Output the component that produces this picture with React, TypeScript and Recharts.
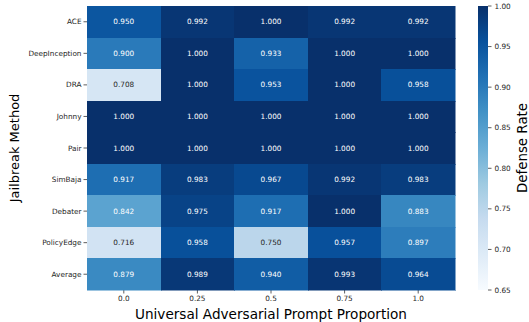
import React from 'react';
import { ScatterChart, Scatter, XAxis, YAxis, BarChart, Bar } from 'recharts';

// Defense rate per jailbreak method across universal adversarial prompt proportions
const methods = ['ACE', 'DeepInception', 'DRA', 'Johnny', 'Pair', 'SimBaja', 'Debater', 'PolicyEdge', 'Average'];
const proportions = ['0.0', '0.25', '0.5', '0.75', '1.0'];

const ace = [0.95, 0.992, 1.0, 0.992, 0.992];
const deepInception = [0.9, 1.0, 0.933, 1.0, 1.0];
const dra = [0.708, 1.0, 0.953, 1.0, 0.958];
const johnny = [1.0, 1.0, 1.0, 1.0, 1.0];
const pair = [1.0, 1.0, 1.0, 1.0, 1.0];
const simBaja = [0.917, 0.983, 0.967, 0.992, 0.983];
const debater = [0.842, 0.975, 0.917, 1.0, 0.883];
const policyEdge = [0.716, 0.958, 0.75, 0.957, 0.897];
const average = [0.879, 0.989, 0.94, 0.993, 0.964];

const colorbarTicks = [0.65, 0.7, 0.75, 0.8, 0.85, 0.9, 0.95, 1.0];
const vMin = 0.65;
const vMax = 1.0;

const rows = [ace, deepInception, dra, johnny, pair, simBaja, debater, policyEdge, average];

const cells = rows.flatMap((row, r) =>
  row.map((v, c) => ({ x: c + 0.5, y: r + 0.5, value: v }))
);

// Blues colormap stops
const BLUES = ['#f7fbff', '#deebf7', '#c6dbef', '#9ecae1', '#6baed6', '#4292c6', '#2171b5', '#08519c', '#08306b'];

const hexToRgb = (h: string) => [1, 3, 5].map((i) => parseInt(h.slice(i, i + 2), 16));

function blues(t: number): number[] {
  const tt = Math.max(0, Math.min(1, t)) * (BLUES.length - 1);
  const i = Math.min(BLUES.length - 2, Math.floor(tt));
  const f = tt - i;
  const a = hexToRgb(BLUES[i]);
  const b = hexToRgb(BLUES[i + 1]);
  return a.map((av, k) => av + (b[k] - av) * f);
}

const rgbStr = (c: number[]) => `rgb(${c.map((v) => Math.round(v)).join(',')})`;

function luminance(c: number[]) {
  const lin = c.map((v) => {
    const s = v / 255;
    return s <= 0.03928 ? s / 12.92 : Math.pow((s + 0.055) / 1.055, 2.4);
  });
  return 0.2126 * lin[0] + 0.7152 * lin[1] + 0.0722 * lin[2];
}

const W = 529;
const H = 322;
const PLOT_LEFT = 87;
const PLOT_RIGHT = 455;
const PLOT_TOP = 6;
const PLOT_BOTTOM = 290;
const CELL_W = (PLOT_RIGHT - PLOT_LEFT) / proportions.length;
const CELL_H = (PLOT_BOTTOM - PLOT_TOP) / methods.length;

const FONT = 'DejaVu Sans, sans-serif';
const TEXT = '#262626';

const HeatCell = (props: any) => {
  const { cx, cy, payload } = props;
  const t = (payload.value - vMin) / (vMax - vMin);
  const col = blues(t);
  const txt = luminance(col) > 0.408 ? TEXT : '#ffffff';
  const x0 = Math.round(cx - CELL_W / 2);
  const y0 = Math.round(cy - CELL_H / 2);
  const x1 = Math.round(cx + CELL_W / 2);
  const y1 = Math.round(cy + CELL_H / 2);
  return (
    <g>
      <rect
        x={x0}
        y={y0}
        width={x1 - x0}
        height={y1 - y0}
        fill={rgbStr(col)}
        stroke={rgbStr(col)}
        strokeWidth={0.5}
        shapeRendering="crispEdges"
      />
      <text
        x={cx}
        y={cy}
        textAnchor="middle"
        dominantBaseline="central"
        fontSize={7.3}
        fontFamily={FONT}
        fill={txt}
      >
        {payload.value.toFixed(3)}
      </text>
    </g>
  );
};

const YTitle = (props: any) => {
  const { viewBox } = props;
  const x = 14;
  const y = viewBox.y + viewBox.height / 2;
  return (
    <text
      x={x}
      y={y}
      transform={`rotate(-90 ${x} ${y})`}
      textAnchor="middle"
      dominantBaseline="central"
      fontSize={13}
      fontFamily={FONT}
      fill="#000"
    >
      Jailbreak Method
    </text>
  );
};

const CbTitle = (props: any) => {
  const { viewBox } = props;
  const x = 522;
  const y = viewBox.y + viewBox.height / 2;
  return (
    <text
      x={x}
      y={y}
      transform={`rotate(-90 ${x} ${y})`}
      textAnchor="middle"
      dominantBaseline="central"
      fontSize={13.4}
      fontFamily={FONT}
      fill="#000"
    >
      Defense Rate
    </text>
  );
};

const colorbarData = [{ name: 'cb', range: [vMin, vMax] }];

export default function App() {
  const tickStyle = { fontSize: 7.3, fontFamily: FONT, fill: TEXT };
  return (
    <div style={{ position: 'absolute', left: 0, top: 0, width: W, height: H, background: '#fff' }}>
      <div style={{ position: 'absolute', left: 0, top: 0 }}>
        <ScatterChart
          width={W}
          height={H}
          margin={{ top: PLOT_TOP, right: W - PLOT_RIGHT, bottom: 0, left: 0 }}
        >
          <XAxis
            type="number"
            dataKey="x"
            domain={[0, proportions.length]}
            ticks={proportions.map((_, i) => i + 0.5)}
            tickFormatter={(v: number) => proportions[Math.floor(v)]}
            axisLine={false}
            tickSize={3.5}
            tickMargin={2.5}
            tickLine={{ stroke: '#333', strokeWidth: 0.8 }}
            tick={tickStyle}
            height={H - PLOT_BOTTOM}
            interval={0}
            label={{
              value: 'Universal Adversarial Prompt Proportion',
              position: 'insideBottom',
              offset: 3,
              fontSize: 13.6,
              fontFamily: FONT,
              fill: '#000',
            }}
          />
          <YAxis
            type="number"
            dataKey="y"
            domain={[0, methods.length]}
            reversed
            ticks={methods.map((_, i) => i + 0.5)}
            tickFormatter={(v: number) => methods[Math.floor(v)]}
            axisLine={false}
            tickSize={3.5}
            tickMargin={2}
            tickLine={{ stroke: '#333', strokeWidth: 0.8 }}
            tick={tickStyle}
            width={PLOT_LEFT}
            interval={0}
            label={<YTitle />}
          />
          <Scatter data={cells} shape={<HeatCell />} isAnimationActive={false} />
        </ScatterChart>
      </div>
      <div style={{ position: 'absolute', left: 0, top: 0 }}>
        <BarChart
          width={W}
          height={H}
          data={colorbarData}
          margin={{ top: PLOT_TOP, right: 0, bottom: H - PLOT_BOTTOM, left: 478 }}
          barCategoryGap={0}
          barGap={0}
        >
          <defs>
            <linearGradient id="cbGrad" x1="0" y1="1" x2="0" y2="0">
              {BLUES.map((c, i) => (
                <stop key={c} offset={`${(i / (BLUES.length - 1)) * 100}%`} stopColor={c} />
              ))}
            </linearGradient>
          </defs>
          <XAxis dataKey="name" hide />
          <YAxis
            orientation="right"
            type="number"
            domain={[vMin, vMax]}
            ticks={colorbarTicks}
            tickFormatter={(v: number) => v.toFixed(2)}
            axisLine={false}
            tickSize={3.5}
            tickMargin={3}
            tickLine={{ stroke: '#333', strokeWidth: 0.8 }}
            tick={tickStyle}
            width={W - 488}
            interval={0}
            allowDataOverflow
            label={<CbTitle />}
          />
          <Bar dataKey="range" fill="url(#cbGrad)" isAnimationActive={false} />
        </BarChart>
      </div>
    </div>
  );
}
